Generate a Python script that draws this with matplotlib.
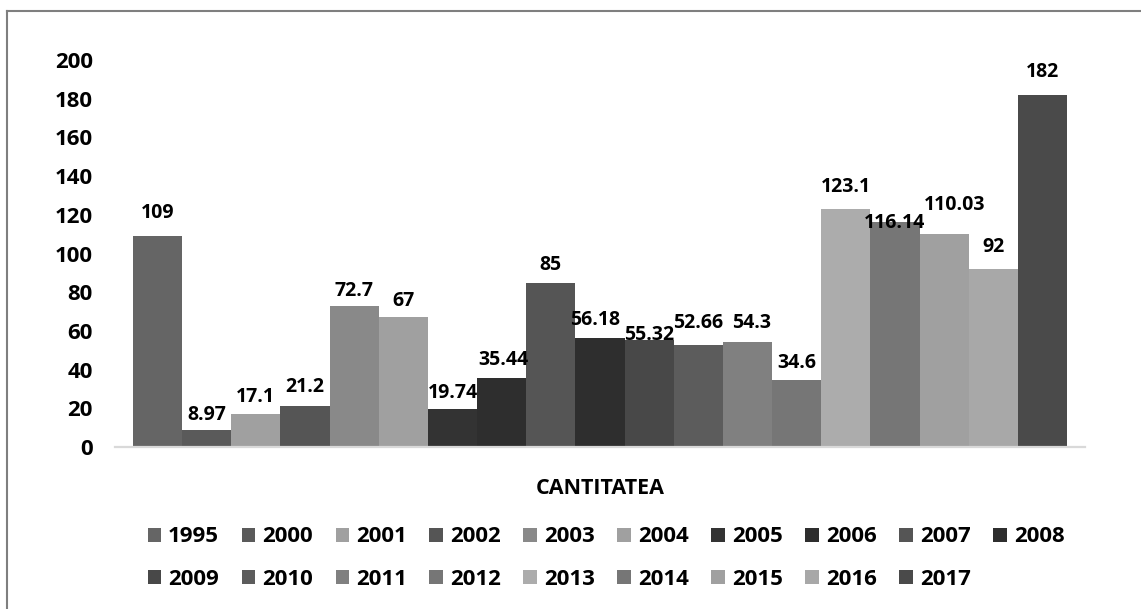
import numpy as np
import matplotlib.pyplot as plt
from matplotlib.patches import Patch
from matplotlib.lines import Line2D

# data
years = ['1995', '2000', '2001', '2002', '2003', '2004', '2005', '2006', '2007', '2008',
         '2009', '2010', '2011', '2012', '2013', '2014', '2015', '2016', '2017']
values = [109, 8.97, 17.1, 21.2, 72.7, 67, 19.74, 35.44, 85, 56.18,
          55.32, 52.66, 54.3, 34.6, 123.1, 116.14, 110.03, 92, 182]
value_labels = ['109', '8.97', '17.1', '21.2', '72.7', '67', '19.74', '35.44', '85', '56.18',
                '55.32', '52.66', '54.3', '34.6', '123.1', '116.14', '110.03', '92', '182']
category = 'CANTITATEA'
yticks = [0, 20, 40, 60, 80, 100, 120, 140, 160, 180, 200]

# grey shades per series
colors = ['#656565', '#5a5a5a', '#a0a0a0', '#555555', '#898989', '#a0a0a0', '#333333',
          '#2e2e2e', '#555555', '#2e2e2e', '#484848', '#5c5c5c', '#808080', '#767676',
          '#acacac', '#767676', '#a0a0a0', '#a8a8a8', '#4a4a4a']

# label nudges (pixels): gap above bar top, horizontal shift
label_dy = [23, 15, 17, 19, 15, 16, 16, 18, 18, 18, 5, 22, 19, 17, 22, -1, 29, 22, 23]
label_dx = [0, 0, 0, 0, 0, 0, 0, 2, 0, -5, 0, 0, 4, 0, 0, 0, 10, 0, 0]

W, H = 1141, 609
fig = plt.figure(figsize=(W / 100, H / 100), dpi=100)
ax = fig.add_axes([115 / W, 1 - 447 / H, (1085 - 115) / W, (447 - 60) / H])

font = 'Open Sans'
n = len(values)
w = 0.963 / n
xpos = (np.arange(n) - (n - 1) / 2) * w

bars = ax.bar(xpos, values, width=w, color=colors, linewidth=0)

for i, (x, v) in enumerate(zip(xpos, values)):
    ax.annotate(value_labels[i], xy=(x, v), xytext=(label_dx[i] * 0.72, label_dy[i] * 0.72),
                textcoords='offset points', ha='center', va='center',
                fontsize=14, fontweight='bold', family=font, color='#000000')

ax.set_xlim(-0.5, 0.5)
ax.set_ylim(0, 200)
ax.set_yticks(yticks)
ax.set_yticklabels([str(t) for t in yticks], fontsize=16, fontweight='bold', family=font)
ax.set_xticks([])
ax.tick_params(axis='y', length=0, pad=16)
for s in ['top', 'right', 'left']:
    ax.spines[s].set_visible(False)
ax.spines['bottom'].set_color('#d9d9d9')
ax.spines['bottom'].set_linewidth(1.6)

fig.text(600 / W, 1 - 489 / H, category, ha='center', va='center',
         fontsize=15.5, fontweight='bold', family=font)

# legend: reorder so it reads row by row (10 then 9)
handles = [Patch(facecolor=c, edgecolor='none') for c in colors]
order = []
for j in range(10):
    order.append(j)
    if j + 10 < n:
        order.append(j + 10)
leg = fig.legend([handles[k] for k in order], [years[k] for k in order],
                 ncol=10, loc='center', bbox_to_anchor=(606 / W, 1 - 558 / H),
                 frameon=False, handlelength=0.6, handleheight=0.6, handletextpad=0.32,
                 columnspacing=1.02, labelspacing=0.95, borderpad=0,
                 prop={'family': font, 'weight': 'bold', 'size': 16})

# chart frame (left and top edges visible)
fig.add_artist(Line2D([7 / W, 7 / W], [0, 1 - 11 / H], color='#7f7f7f', lw=1.5))
fig.add_artist(Line2D([7 / W, 1], [1 - 11 / H, 1 - 11 / H], color='#7f7f7f', lw=1.5))

fig.savefig('out.png', dpi=100)
